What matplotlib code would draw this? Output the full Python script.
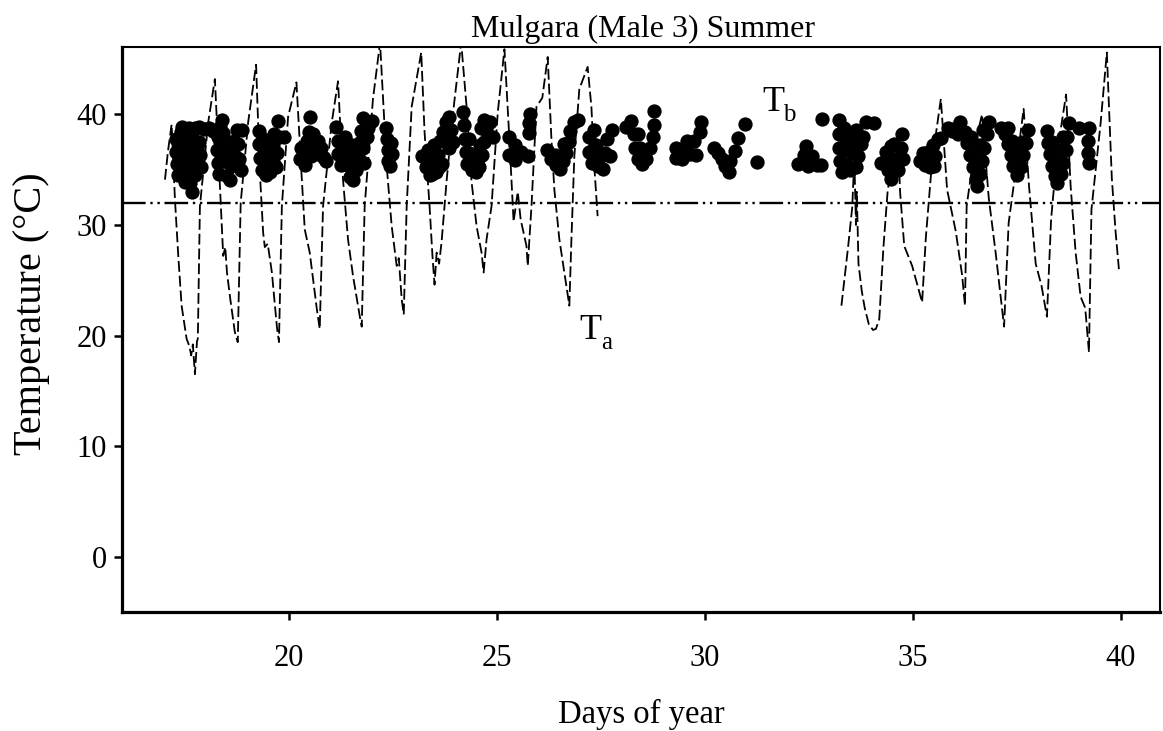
import numpy as np
import matplotlib
matplotlib.use("Agg")
from matplotlib import pyplot as plt

plt.rcParams['font.family'] = ['Liberation Serif', 'DejaVu Serif']

# ambient temperature Ta (day of year, deg C), nan = logger gap
ta_day = [17.03, 17.10, 17.19, 17.27, 17.35, 17.43, 17.55, 17.62, 17.66, 17.70, 17.75, 17.80, 17.82, 17.87, 18.07, 18.23,
          18.35, 18.43, 18.48, 18.52, 18.60, 18.71, 18.78, 18.85, 19.03, 19.22,
          19.31, 19.39, 19.43, 19.50, 19.60, 19.72, 19.77, 19.84, 19.99, 20.19,
          20.32, 20.39, 20.51, 20.68, 20.75, 20.83, 21.04, 21.19,
          21.31, 21.43, 21.55, 21.71, 21.76, 21.83, 22.03, 22.20,
          22.36, 22.48, 22.60, 22.65, 22.72, 22.77, 22.84, 22.96, 23.19,
          23.27, 23.39, 23.46, 23.51, 23.56, 23.62, 23.68, 23.80, 23.95, 24.15,
          24.28, 24.40, 24.52, 24.64, 24.69, 24.76, 24.88, 25.03, 25.19,
          25.31, 25.39, 25.41, 25.51, 25.58, 25.72, 25.75, 25.84, 25.96, 26.10, 26.23,
          26.32, 26.39, 26.51, 26.63, 26.75, 26.80, 26.87, 26.99, 27.19,
          27.28, 27.35, 27.43,
          30.0,
          33.29, 33.45, 33.55, 33.60, 33.64, 33.66, 33.70, 33.78, 33.85, 33.95, 34.05, 34.12,
          34.20, 34.30, 34.40, 34.55, 34.65, 34.70, 34.80, 34.99, 35.23,
          35.32, 35.47, 35.68, 35.83, 36.04, 36.19, 36.26, 36.30, 36.52, 36.67,
          36.83, 37.00, 37.20, 37.31, 37.51, 37.67, 37.80, 37.96, 38.10, 38.23,
          38.33, 38.47, 38.69, 38.80, 38.92, 39.04, 39.15, 39.24, 39.30, 39.52, 39.67,
          39.79, 39.88, 39.96]
ta_temp = [34.1, 36.6, 39.1, 32.3, 27.2, 22.7, 19.7, 19.0, 18.2, 19.2, 16.5, 19.5, 19.7, 31.7, 39.3, 43.2,
           33.5, 27.2, 28.0, 25.7, 23.3, 20.3, 19.4, 32.0, 39.3, 44.5,
           34.8, 29.3, 28.0, 28.3, 25.7, 20.8, 19.4, 31.7, 39.8, 42.9,
           34.1, 29.6, 27.5, 22.4, 20.6, 31.7, 39.3, 43.0,
           34.1, 28.7, 25.4, 21.8, 20.8, 31.7, 41.4, 46.5,
           35.3, 29.9, 26.3, 27.0, 23.3, 21.9, 31.7, 40.7, 45.6,
           38.4, 31.7, 27.2, 24.6, 27.5, 26.5, 28.5, 34.0, 40.0, 46.5,
           40.7, 33.9, 29.9, 27.5, 25.7, 28.7, 31.7, 40.2, 45.9,
           37.7, 31.7, 30.3, 33.0, 30.5, 28.1, 26.3, 31.7, 40.7, 41.5, 45.2,
           37.7, 33.2, 28.7, 25.7, 22.7, 28.7, 36.2, 42.3, 44.3,
           40.7, 35.3, 30.8,
           np.nan,
           22.7, 28.0, 31.6, 36.0, 30.0, 33.0, 26.5, 24.0, 22.5, 21.0, 20.5, 20.6,
           21.5, 28.0, 33.0, 37.0, 38.0, 33.0, 28.1, 26.3, 23.0,
           28.9, 35.8, 41.4, 33.2, 29.4, 25.5, 22.7, 31.7, 37.6, 40.0,
           32.5, 27.4, 20.8, 30.2, 35.8, 40.5, 33.5, 26.5, 24.5, 21.7,
           30.5, 36.4, 41.8, 33.5, 27.5, 23.5, 22.5, 18.5, 31.4, 39.2, 45.6,
           34.2, 29.4, 26.0]

# body temperature Tb readings, one line per daily cluster
tb_day = [17.30, 17.30, 17.32, 17.35, 17.42, 17.42, 17.44, 17.46, 17.50, 17.55, 17.56, 17.58, 17.60, 17.63, 17.68, 17.68, 17.70, 17.72, 17.74, 17.75, 17.85, 17.97, 18.10, 18.18, 17.85, 17.88, 17.90,
          18.30, 18.28, 18.30, 18.33, 18.40, 18.42, 18.45, 18.47, 18.52, 18.60, 18.62, 18.65, 18.68, 18.75, 18.78, 18.80, 18.85, 18.88,
          19.30, 19.30, 19.32, 19.36, 19.45, 19.55, 19.60, 19.62, 19.66, 19.75, 19.78, 19.72, 19.70, 19.42, 19.50,
          20.27, 20.30, 20.40, 20.42, 20.45, 20.50, 20.51, 20.55, 20.62, 20.70, 20.78, 20.85, 20.90,
          21.15, 21.18, 21.20, 21.25, 21.35, 21.38, 21.40, 21.48, 21.55, 21.52, 21.62, 21.65, 21.70, 21.75, 21.78, 21.80, 21.82, 22.00, 21.92,
          22.35, 22.37, 22.38, 22.40, 22.45, 22.48, 22.47,
          23.22, 23.30, 23.35, 23.40, 23.45, 23.50, 23.55, 23.60, 23.65, 23.72, 23.78, 23.85, 23.90, 23.95, 23.70,
          24.20, 24.22, 24.24, 24.26, 24.30, 24.40, 24.50, 24.58, 24.65, 24.70, 24.75, 24.85, 24.92, 24.45, 24.62,
          25.30, 25.30, 25.45, 25.45, 25.60, 25.75, 25.80, 25.79, 25.78,
          26.22, 26.32, 26.42, 26.52, 26.60, 26.68, 26.73, 26.77, 26.85, 26.95, 26.50,
          27.22, 27.22, 27.30, 27.40, 27.45, 27.55, 27.60, 27.65, 27.72, 27.78, 27.35,
          28.12, 28.24, 28.30, 28.34, 28.40, 28.50, 28.60, 28.70, 28.76, 28.79, 28.79, 28.45,
          29.32, 29.32, 29.45, 29.50, 29.58, 29.65, 29.75, 29.80, 29.88, 29.92,
          30.23, 30.32, 30.42, 30.50, 30.58, 30.62, 30.72, 30.80, 30.98, 31.26,
          32.25, 32.38, 32.45, 32.48, 32.58, 32.70, 32.80, 32.82,
          33.24, 33.24, 33.24, 33.26, 33.30, 33.40, 33.42, 33.50, 33.55, 33.58, 33.65, 33.70, 33.75, 33.80, 33.88, 34.07, 33.40,
          34.25, 34.35, 34.40, 34.48, 34.48, 34.58, 34.65, 34.72, 34.75, 34.78,
          35.18, 35.25, 35.30, 35.38, 35.42, 35.48, 35.55, 35.60, 35.52, 35.68,
          35.85, 35.95, 36.05, 36.15, 36.25, 36.32, 36.38, 36.45, 36.52, 36.55, 36.62, 36.68, 36.72, 36.78, 36.84, 36.40,
          37.12, 37.22, 37.30, 37.36, 37.42, 37.52, 37.60, 37.66, 37.72, 37.78, 37.50,
          38.22, 38.26, 38.30, 38.36, 38.42, 38.48, 38.56, 38.62, 38.68, 38.72, 38.76,
          38.99, 39.24, 39.22, 39.24, 39.22,
          # extra readings inside the dense clusters
          17.38, 17.38, 17.52, 17.52, 17.65, 17.65, 17.80, 17.80, 17.60, 17.45,
          18.36, 18.38, 18.55, 18.55, 18.70, 18.72, 18.35,
          19.38, 19.40, 19.52, 19.55, 19.65, 19.88,
          20.35, 20.60, 20.70,
          21.30, 21.45, 21.45, 21.58, 21.60, 21.70, 21.88,
          23.55, 23.62, 23.80, 23.85, 23.45,
          24.35, 24.35, 24.55, 24.60, 24.80, 24.70,
          26.40, 26.62, 27.35, 27.50, 28.40, 28.55,
          33.32, 33.48, 33.62, 33.65, 33.35,
          34.55, 34.40, 35.45,
          36.10, 36.48, 36.58, 36.62, 36.70,
          37.40, 37.46, 37.58, 37.62, 37.30,
          38.35, 38.42, 38.52, 38.55, 38.62]
tb_temp = [37.8, 36.6, 35.5, 34.5, 38.4, 37.2, 36.0, 34.8, 33.9, 38.6, 37.4, 36.2, 35.0, 33.8, 33.0, 38.0, 36.8, 35.6, 34.5, 38.8, 38.9, 38.7, 38.8, 38.5, 37.5, 36.3, 35.2,
           38.0, 36.8, 35.6, 34.6, 39.5, 38.3, 37.0, 35.8, 34.4, 34.1, 35.3, 36.5, 37.6, 38.6, 37.3, 36.0, 35.0, 38.6,
           38.5, 37.3, 36.1, 35.0, 34.5, 34.8, 36.0, 37.2, 38.2, 39.4, 38.0, 36.5, 35.2, 36.0, 35.8,
           36.0, 37.0, 35.4, 36.6, 37.6, 38.4, 39.8, 36.2, 37.1, 36.4, 37.0, 36.1, 35.8,
           38.9, 37.6, 36.4, 35.4, 38.0, 36.8, 35.4, 34.3, 34.1, 36.0, 35.0, 36.2, 37.4, 38.5, 39.7, 37.0, 35.6, 39.4, 38.8,
           38.8, 37.8, 36.8, 35.8, 35.3, 36.4, 37.4,
           36.2, 35.2, 36.8, 34.5, 35.8, 37.2, 34.8, 36.3, 37.6, 38.4, 39.3, 39.8, 38.6, 37.5, 35.5,
           40.2, 39.0, 37.8, 36.6, 35.5, 35.0, 34.8, 35.2, 36.3, 37.5, 38.6, 39.3, 38.0, 36.2, 38.8,
           38.0, 36.3, 37.2, 35.9, 36.6, 36.2, 40.0, 39.2, 38.3,
           36.8, 36.0, 35.4, 35.1, 35.8, 36.5, 37.5, 38.5, 39.3, 39.5, 36.2,
           38.0, 36.6, 35.6, 37.2, 35.3, 35.1, 36.5, 37.8, 36.2, 38.6, 38.6,
           38.9, 39.4, 38.2, 37.0, 36.0, 35.5, 36.0, 37.0, 38.0, 39.0, 40.3, 37.0,
           37.0, 36.1, 36.0, 37.0, 37.6, 36.4, 37.6, 36.3, 38.4, 39.3,
           37.0, 36.5, 36.0, 35.3, 34.8, 35.8, 36.7, 37.9, 39.1, 35.7,
           35.5, 36.3, 37.1, 35.3, 36.2, 35.4, 35.4, 39.6,
           39.5, 38.2, 37.0, 35.8, 34.8, 35.5, 36.8, 35.0, 38.0, 36.5, 35.2, 36.2, 37.3, 38.0, 39.3, 39.2, 37.8,
           35.6, 36.6, 35.0, 37.1, 34.2, 36.0, 35.0, 37.0, 38.2, 36.0,
           35.8, 36.5, 35.4, 36.6, 35.2, 37.2, 36.2, 37.8, 35.3, 37.9,
           38.8, 38.5, 38.8, 39.3, 38.4, 37.4, 36.3, 35.2, 34.2, 33.5, 34.6, 35.8, 37.0, 38.2, 39.3, 38.0,
           38.8, 38.2, 37.3, 36.3, 35.3, 34.5, 35.2, 36.3, 37.4, 38.6, 36.5,
           38.5, 37.4, 36.4, 35.3, 34.4, 33.8, 34.6, 35.6, 36.8, 38.0, 39.2,
           38.8, 38.8, 37.6, 35.6, 36.5,
           # extra readings inside the dense clusters
           37.0, 35.8, 36.6, 35.4, 37.2, 35.8, 37.0, 35.9, 38.8, 38.9,
           37.5, 36.3, 37.3, 35.7, 35.4, 36.2, 38.9,
           37.8, 36.8, 37.0, 36.2, 35.5, 38.0,
           36.2, 38.2, 37.6,
           37.0, 37.3, 35.8, 35.3, 37.0, 36.0, 38.0,
           36.0, 35.2, 38.0, 37.0, 34.6,
           36.5, 37.8, 36.0, 37.2, 38.0, 39.5,
           36.3, 37.3, 37.0, 36.2, 38.2, 36.5,
           36.8, 37.0, 37.3, 38.6, 38.8,
           37.3, 36.0, 36.2,
           38.2, 36.5, 35.5, 37.2, 38.6,
           37.6, 36.0, 36.3, 37.5, 38.8,
           37.5, 36.0, 35.3, 36.8, 38.0]

tlc = 32  # lower critical temperature line
x_ticks = [20, 25, 30, 35, 40]
y_ticks = [0, 10, 20, 30, 40]

fig = plt.figure(figsize=(11.63, 7.31), dpi=100)
ax = fig.add_axes([0.105, 0.163, 0.8925, 0.7727])

ax.axhline(tlc, color='black', lw=1.7, dashes=(10, 2, 1, 2, 1, 2), zorder=1)
ax.plot(ta_day, ta_temp, color='black', lw=1.3, dashes=(6, 2.2), zorder=2)
ax.plot(tb_day, tb_temp, 'o', color='black', markersize=10.3, markeredgewidth=0, zorder=3)

ax.set_xlim(16, 40.95)
ax.set_ylim(-5, 46.1)
ax.set_xticks(x_ticks)
ax.set_yticks(y_ticks)
ax.tick_params(direction='out', length=6, width=1.8, labelsize=22, color='black')
ax.tick_params(axis='x', pad=17)
ax.tick_params(axis='y', pad=5)

for s in ['left', 'bottom']:
    ax.spines[s].set_linewidth(2.3)
for s in ['top', 'right']:
    ax.spines[s].set_linewidth(1.5)

ax.set_xlabel('Days of year', fontsize=23.5, labelpad=19)
ax.set_ylabel('Temperature (\u00b0C)', fontsize=29)
ax.yaxis.set_label_coords(-0.069, 0.527)
fig.text(0.553, 0.950, 'Mulgara (Male 3) Summer', fontsize=23, ha='center', va='baseline')

# series labels
ax.text(27.0, 19.67, 'T', fontsize=26, va='baseline')
ax.text(27.52, 18.77, 'a', fontsize=18, va='baseline')
ax.text(31.38, 40.27, 'T', fontsize=26, va='baseline')
ax.text(31.88, 39.37, 'b', fontsize=18, va='baseline')

fig.savefig('out.png', dpi=100)
